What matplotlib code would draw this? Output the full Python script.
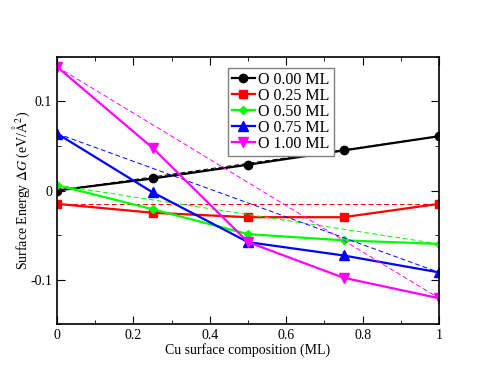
import numpy as np
import matplotlib
matplotlib.use('Agg')
import matplotlib.pyplot as plt

plt.rcParams['font.family'] = ['Liberation Serif', 'DejaVu Serif']
plt.rcParams['mathtext.fontset'] = 'stix'

# data
cu = np.array([0, 0.25, 0.5, 0.75, 1.0])
labels = ['O 0.00 ML', 'O 0.25 ML', 'O 0.50 ML', 'O 0.75 ML', 'O 1.00 ML']
e_000 = [0.000, 0.0135, 0.029, 0.045, 0.061]
e_025 = [-0.015, -0.025, -0.030, -0.030, -0.015]
e_050 = [0.006, -0.021, -0.049, -0.056, -0.060]
e_075 = [0.064, -0.002, -0.058, -0.073, -0.092]
e_100 = [0.139, 0.048, -0.058, -0.098, -0.121]

series = [e_000, e_025, e_050, e_075, e_100]
colors = ['black', 'red', '#00ff00', 'blue', '#ff00ff']
markers = ['o', 's', 'D', '^', 'v']
msizes = [6, 6, 4.5, 6.5, 6.5]

fig = plt.figure(figsize=(4.94, 3.82), dpi=100)
ax = fig.add_axes([0.1154, 0.1518, 0.7733, 0.699])

for y, c, m, ms, lab in zip(series, colors, markers, msizes, labels):
    ax.plot(cu, y, color=c, marker=m, markersize=ms, lw=1.6, label=lab)
    # dashed line between the two end points
    ax.plot([cu[0], cu[-1]], [y[0], y[-1]], color=c, lw=0.7, ls=(0, (5, 3)))

ax.set_xlim(0, 1)
ax.set_ylim(-0.15, 0.15)
ax.set_xticks([0, 0.2, 0.4, 0.6, 0.8, 1])
ax.set_xticklabels(['0', '0.2', '0.4', '0.6', '0.8', '1'])
ax.set_xticks(np.arange(0, 1.01, 0.1), minor=True)
ax.set_yticks([-0.1, 0, 0.1])
ax.set_yticklabels(['-0.1', '0', '0.1'])
ax.set_yticks([-0.15, -0.05, 0.05, 0.15], minor=True)
ax.tick_params(which='both', direction='in', top=True, right=True, labelsize=10)
ax.tick_params(which='major', length=6)
ax.tick_params(which='minor', length=3)
for s in ax.spines.values():
    s.set_linewidth(1.2)

ax.set_xlabel('Cu surface composition (ML)', fontsize=10, labelpad=1)
ax.set_ylabel(r'Surface Energy $\Delta G$ (eV/$\mathrm{\AA}^2$)', fontsize=10, labelpad=-1)

leg = ax.legend(loc='upper left', bbox_to_anchor=(0.448, 0.959), fontsize=11.5,
                fancybox=False, edgecolor='gray', framealpha=1,
                handlelength=1.4, handletextpad=0.25, borderpad=0.25,
                labelspacing=0.0, borderaxespad=0)
leg.get_frame().set_linewidth(1.0)

fig.savefig('out.png', dpi=100)
